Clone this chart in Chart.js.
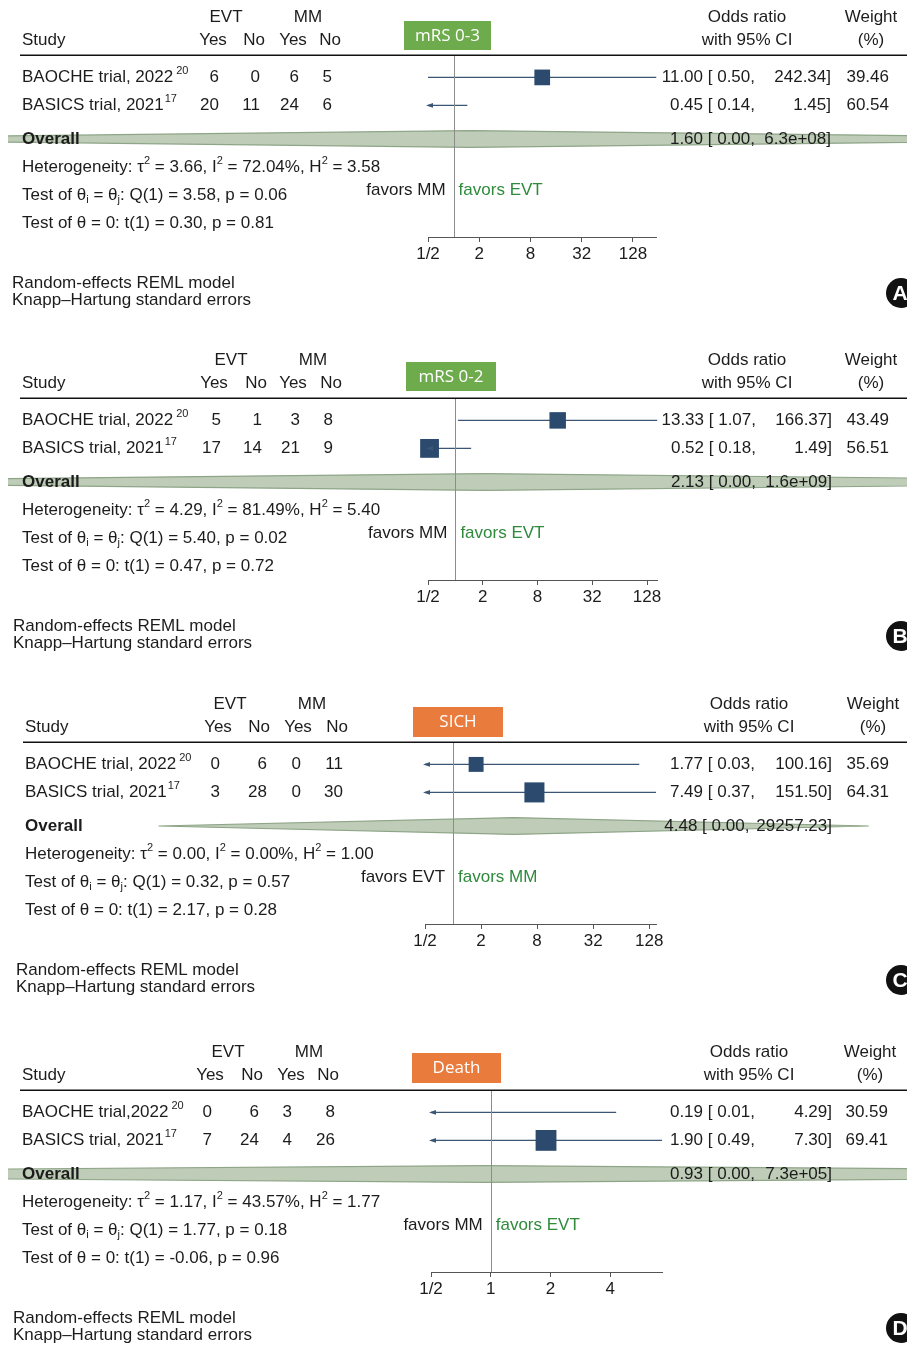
<!DOCTYPE html>
<html><head><meta charset="utf-8">
<script src="https://cdn.jsdelivr.net/npm/chart.js@4.4.1/dist/chart.umd.min.js"></script>
<style>
body{margin:0;background:#fff;}
#wrap{position:relative;width:907px;height:1346px;overflow:hidden;background:#fff;}
#wrap canvas{position:absolute;left:0;}
</style></head><body><div id="wrap"></div>
<script>
// ---------------- DATA ----------------
const outcomes = ["mRS 0-3", "mRS 0-2", "SICH", "Death"];
const panelLetters = ["A", "B", "C", "D"];
const studyNames = [
  ["BAOCHE trial, 2022", "BASICS trial, 2021"],
  ["BAOCHE trial, 2022", "BASICS trial, 2021"],
  ["BAOCHE trial, 2022", "BASICS trial, 2021"],
  ["BAOCHE trial,2022", "BASICS trial, 2021"]
];
const studyRefs = ["20", "17"];
const evtYes = [[6, 20], [5, 17], [0, 3], [0, 7]];
const evtNo  = [[0, 11], [1, 14], [6, 28], [6, 24]];
const mmYes  = [[6, 24], [3, 21], [0, 0], [3, 4]];
const mmNo   = [[5, 6], [8, 9], [11, 30], [8, 26]];
const oddsRatio = [[11.00, 0.45], [13.33, 0.52], [1.77, 7.49], [0.19, 1.90]];
const ciLower   = [[0.50, 0.14], [1.07, 0.18], [0.03, 0.37], [0.01, 0.49]];
const ciUpper   = [[242.34, 1.45], [166.37, 1.49], [100.16, 151.50], [4.29, 7.30]];
const weights   = [[39.46, 60.54], [43.49, 56.51], [35.69, 64.31], [30.59, 69.41]];
const overallOR    = [1.60, 2.13, 4.48, 0.93];
const overallUpper = [6.3e8, 1.6e9, 29257.23, 7.3e5];
const tau2  = [3.66, 4.29, 0.00, 1.17];
const iSq   = [72.04, 81.49, 0.00, 43.57];
const hSq   = [3.58, 5.40, 1.00, 1.77];
const qStat = [3.58, 5.40, 0.32, 1.77];
const qP    = [0.06, 0.02, 0.57, 0.18];
const tStat = [0.30, 0.47, 2.17, -0.06];
const tP    = [0.81, 0.72, 0.28, 0.96];
const favorsLeft  = ["favors MM", "favors MM", "favors EVT", "favors MM"];
const favorsRight = ["favors EVT", "favors EVT", "favors MM", "favors EVT"];
const xTicks = [[0.5, 2, 8, 32, 128], [0.5, 2, 8, 32, 128], [0.5, 2, 8, 32, 128], [0.5, 1, 2, 4]];
const xMin = 0.5;

// ---------------- LAYOUT / STYLE ----------------
const W = 907;
const FONT = '"Liberation Sans", Arial, Helvetica, sans-serif';
const FS = 17;
const STUDY_ROWS = [0.8, 1.8];
const OVERALL_ROW = 3.0;
const HET_ROWS = [4.0, 5.0, 6.0];
const FAVORS_ROW = 4.85;
const Y_MAX = 6.5;
const DIAMOND_HALF = 0.3;
const TOPPAD = 55, AREA_H = 182, AXIS_H = 30;
const REF_GAP = [3, 1];
const panels = [
  {top:0,    h:343, left:428, right:656.5, colR:[219,260,299,332], hdrC:[213,254,293,330], evtC:226, mmC:308, studyX:22, box:[404,491,-34,-5], boxColor:'#6dab4c', orC:747, estR:755, hiR:831, wR:889, wC:871, footX:12},
  {top:343,  h:344, left:428, right:657.4, colR:[221,262,300,333], hdrC:[214,256,293,331], evtC:231, mmC:313, studyX:22, box:[406,496,-36,-7], boxColor:'#6dab4c', orC:747, estR:756, hiR:832, wR:889, wC:871, footX:13},
  {top:687,  h:348, left:425, right:656,   colR:[220,267,301,343], hdrC:[218,259,298,337], evtC:230, mmC:312, studyX:25, box:[413,503,-35,-5], boxColor:'#e97b3c', orC:749, estR:755, hiR:832, wR:889, wC:873, footX:16},
  {top:1035, h:311, left:431, right:662,   colR:[212,259,292,335], hdrC:[210,252,291,328], evtC:228, mmC:309, studyX:22, box:[412,501,-37,-7], boxColor:'#e97b3c', orC:749, estR:755, hiR:832, wR:888, wC:870, footX:13}
];
const TXT = '#1c1c1c';
const LINE_C = '#3a5674';
const SQ_C = '#2b4a6e';
const GREEN_T = '#2f8a3c';

function setFont(ctx, size, bold, fam) { ctx.font = (bold ? 'bold ' : '') + size + 'px ' + (fam || FONT); }
function text(ctx, s, x, y, align, opt) {
  opt = opt || {};
  setFont(ctx, opt.size || FS, opt.bold, opt.fam);
  ctx.fillStyle = opt.color || TXT;
  ctx.textAlign = align || 'left';
  ctx.textBaseline = 'middle';
  ctx.fillText(s, x, y);
  return ctx.measureText(s).width;
}
function measure(ctx, s, size) { setFont(ctx, size || FS); return ctx.measureText(s).width; }
function rich(ctx, segs, x, y) {
  let cx = x;
  ctx.textAlign = 'left'; ctx.textBaseline = 'middle'; ctx.fillStyle = TXT;
  for (const s of segs) {
    if (typeof s === 'string') { setFont(ctx, FS); ctx.fillText(s, cx, y); cx += ctx.measureText(s).width; }
    else { setFont(ctx, 11); const dy = s.sup ? -6 : 5; ctx.fillText(s.t, cx, y + dy); cx += ctx.measureText(s.t).width; }
  }
}
function fmtBig(v) {
  if (v >= 1e5) {
    const [m, e] = v.toExponential(1).split('e');
    const sign = e[0] === '-' ? '-' : '+';
    const d = e.replace(/[+-]/, '');
    return m + 'e' + sign + (d.length < 2 ? '0' + d : d);
  }
  return v.toFixed(2);
}

const wrap = document.getElementById('wrap');
panels.forEach((L, p) => {
  const cv = document.createElement('canvas');
  cv.width = W; cv.height = L.h; cv.style.top = L.top + 'px';
  wrap.appendChild(cv);
  const xMax = Math.max(...ciUpper[p]);
  const oLower = overallOR[p] * overallOR[p] / overallUpper[p];

  const datasets = [];
  // squares (only estimates inside the axis range are drawn)
  const sq = [], sqR = [];
  oddsRatio[p].forEach((v, j) => {
    if (v >= xMin && v <= xMax) { sq.push({x: v, y: STUDY_ROWS[j]}); sqR.push(2.5 * Math.sqrt(weights[p][j]) / Math.SQRT2); }
  });
  datasets.push({type:'scatter', data: sq, pointStyle:'rect', pointRadius: sqR, pointBackgroundColor: SQ_C, pointBorderWidth: 0, clip: false, order: 0});
  // CI lines
  ciLower[p].forEach((lo, j) => {
    datasets.push({type:'line', data:[{x: lo, y: STUDY_ROWS[j]}, {x: ciUpper[p][j], y: STUDY_ROWS[j]}],
      borderColor: LINE_C, borderWidth: 1.4, pointRadius: 0, tension: 0, fill: false, order: 1});
  });

  const forest = {
    id: 'forest' + p,
    beforeDatasetsDraw(chart) {
      const ctx = chart.ctx, xs = chart.scales.x, ys = chart.scales.y;
      const yc = ys.getPixelForValue(OVERALL_ROW);
      const hh = Math.abs(ys.getPixelForValue(OVERALL_ROW + DIAMOND_HALF) - yc);
      const xl = xs.getPixelForValue(oLower), xe = xs.getPixelForValue(overallOR[p]), xr = xs.getPixelForValue(overallUpper[p]);
      ctx.save();
      ctx.beginPath(); ctx.rect(8, 0, W, L.h); ctx.clip();
      ctx.beginPath();
      ctx.moveTo(xl, yc); ctx.lineTo(xe, yc - hh); ctx.lineTo(xr, yc); ctx.lineTo(xe, yc + hh); ctx.closePath();
      ctx.fillStyle = 'rgba(150,172,140,0.62)'; ctx.fill();
      ctx.strokeStyle = '#8fa588'; ctx.lineWidth = 1.2; ctx.stroke();
      ctx.restore();
    },
    afterDatasetsDraw(chart) {
      const ctx = chart.ctx, xs = chart.scales.x, ys = chart.scales.y, a = chart.chartArea;
      const x1 = Math.round(xs.getPixelForValue(1)) + 0.5;
      ctx.save();
      ctx.strokeStyle = '#8c8c8c'; ctx.lineWidth = 1;
      ctx.beginPath(); ctx.moveTo(x1, a.top); ctx.lineTo(x1, a.bottom); ctx.stroke();
      ctx.fillStyle = LINE_C;
      ciLower[p].forEach((lo, j) => {
        if (lo < xMin) {
          const y = ys.getPixelForValue(STUDY_ROWS[j]);
          ctx.beginPath(); ctx.moveTo(a.left - 2, y); ctx.lineTo(a.left + 5, y - 2.3); ctx.lineTo(a.left + 5, y + 2.3); ctx.closePath(); ctx.fill();
        }
      });
      ctx.restore();
    },
    afterDraw(chart) {
      const ctx = chart.ctx, xs = chart.scales.x, ys = chart.scales.y, a = chart.chartArea;
      const top = a.top;
      ctx.save();
      ctx.strokeStyle = '#111'; ctx.lineWidth = 1.6;
      ctx.beginPath(); ctx.moveTo(L.studyX - 2, top + 0.25); ctx.lineTo(W, top + 0.25); ctx.stroke();
      text(ctx, 'EVT', L.evtC, top - 38, 'center');
      text(ctx, 'MM', L.mmC, top - 38, 'center');
      text(ctx, 'Study', L.studyX, top - 15, 'left');
      ['Yes', 'No', 'Yes', 'No'].forEach((h, k) => text(ctx, h, L.hdrC[k], top - 15, 'center'));
      text(ctx, 'Odds ratio', L.orC, top - 38, 'center');
      text(ctx, 'with 95% CI', L.orC, top - 15, 'center');
      text(ctx, 'Weight', L.wC, top - 38, 'center');
      text(ctx, '(%)', L.wC, top - 15, 'center');
      ctx.fillStyle = L.boxColor;
      ctx.fillRect(L.box[0], top + L.box[2], L.box[1] - L.box[0], L.box[3] - L.box[2]);
      text(ctx, outcomes[p], (L.box[0] + L.box[1]) / 2, top + (L.box[2] + L.box[3]) / 2 + 0.5, 'center', {color: '#fff', fam: '"Open Sans", sans-serif', size: 17});
      STUDY_ROWS.forEach((r, j) => {
        const y = ys.getPixelForValue(r);
        const w = text(ctx, studyNames[p][j], L.studyX, y, 'left');
        text(ctx, studyRefs[j], L.studyX + w + REF_GAP[j], y - 6, 'left', {size: 11});
        [evtYes, evtNo, mmYes, mmNo].forEach((arr, k) => text(ctx, String(arr[p][j]), L.colR[k], y, 'right'));
        text(ctx, oddsRatio[p][j].toFixed(2) + ' [ ' + ciLower[p][j].toFixed(2) + ',', L.estR, y, 'right');
        text(ctx, ciUpper[p][j].toFixed(2) + ']', L.hiR, y, 'right');
        text(ctx, weights[p][j].toFixed(2), L.wR, y, 'right');
      });
      const yo = ys.getPixelForValue(OVERALL_ROW);
      text(ctx, 'Overall', L.studyX, yo, 'left', {bold: true});
      const hiS = fmtBig(overallUpper[p]) + ']';
      const hiW = measure(ctx, hiS);
      text(ctx, overallOR[p].toFixed(2) + ' [ ' + oLower.toFixed(2) + ',', Math.min(L.estR, L.hiR - hiW - 7), yo, 'right');
      text(ctx, hiS, L.hiR, yo, 'right');
      rich(ctx, ['Heterogeneity: \u03C4', {t: '2', sup: true}, ' = ' + tau2[p].toFixed(2) + ', I', {t: '2', sup: true},
        ' = ' + iSq[p].toFixed(2) + '%, H', {t: '2', sup: true}, ' = ' + hSq[p].toFixed(2)], L.studyX, ys.getPixelForValue(HET_ROWS[0]));
      rich(ctx, ['Test of \u03B8', {t: 'i'}, ' = \u03B8', {t: 'j'}, ': Q(1) = ' + qStat[p].toFixed(2) + ', p = ' + qP[p].toFixed(2)],
        L.studyX, ys.getPixelForValue(HET_ROWS[1]));
      rich(ctx, ['Test of \u03B8 = 0: t(1) = ' + tStat[p].toFixed(2) + ', p = ' + tP[p].toFixed(2)], L.studyX, ys.getPixelForValue(HET_ROWS[2]));
      const xn = xs.getPixelForValue(1), yf = ys.getPixelForValue(FAVORS_ROW);
      text(ctx, favorsLeft[p], xn - 8, yf, 'right');
      text(ctx, favorsRight[p], xn + 5, yf, 'left', {color: GREEN_T});
      text(ctx, 'Random-effects REML model', L.footX, a.bottom + 46, 'left');
      text(ctx, 'Knapp\u2013Hartung standard errors', L.footX, a.bottom + 63, 'left');
      ctx.fillStyle = '#111';
      ctx.beginPath(); ctx.arc(901, a.bottom + 56, 15, 0, Math.PI * 2); ctx.fill();
      text(ctx, panelLetters[p], 900, a.bottom + 57, 'center', {color: '#fff', bold: true, size: 21});
      ctx.restore();
    }
  };

  new Chart(cv, {
    type: 'scatter',
    data: {datasets},
    options: {
      responsive: false, animation: false, devicePixelRatio: 1,
      layout: {padding: {left: L.left, right: W - L.right, top: TOPPAD, bottom: L.h - TOPPAD - AREA_H - AXIS_H}},
      plugins: {legend: {display: false}, tooltip: {enabled: false}},
      scales: {
        x: {
          type: 'logarithmic', min: xMin, max: xMax, position: 'bottom',
          afterBuildTicks: s => { s.ticks = xTicks[p].map(v => ({value: v})); },
          afterFit: s => { s.height = AXIS_H; },
          ticks: {callback: v => (v === 0.5 ? '1/2' : String(v)), font: {family: FONT, size: FS}, color: TXT, padding: 2, maxRotation: 0, autoSkip: false},
          grid: {display: true, drawOnChartArea: false, drawTicks: true, tickLength: 5, color: '#555', lineWidth: 1},
          border: {display: true, color: '#555', width: 1}
        },
        y: {type: 'linear', min: 0, max: Y_MAX, reverse: true, display: false}
      }
    },
    plugins: [forest]
  });
});
</script></body></html>
